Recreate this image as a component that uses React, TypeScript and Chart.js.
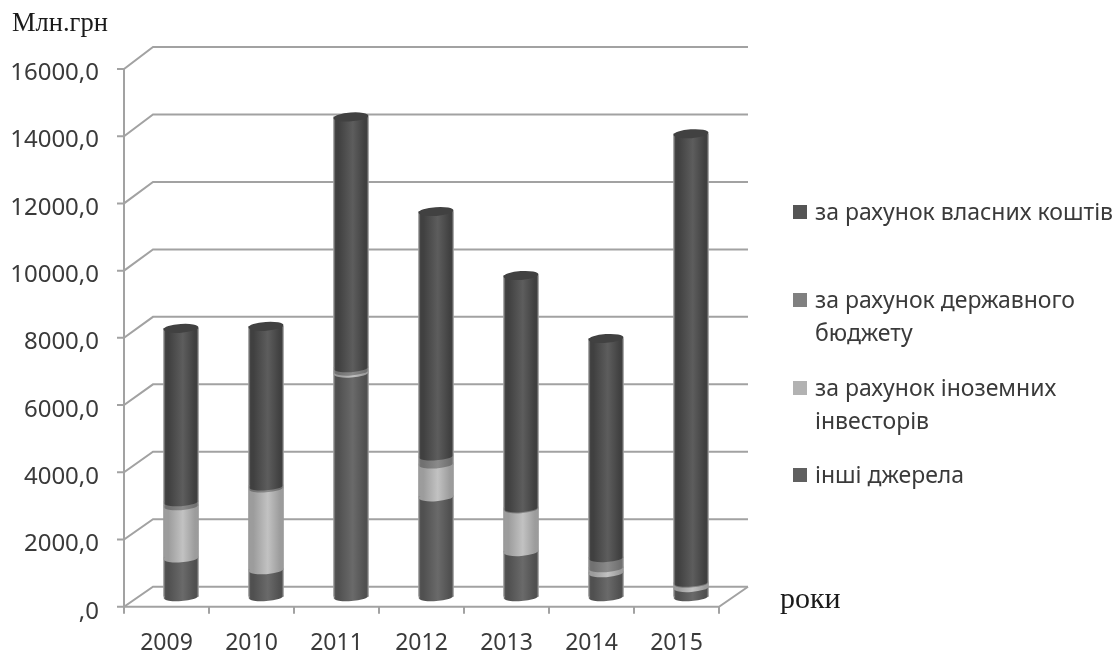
import React, { useEffect, useRef } from "react";
import { Chart, registerables } from "chart.js";

Chart.register(...registerables);

const years = ["2009", "2010", "2011", "2012", "2013", "2014", "2015"];
const otherSources = [1150, 800, 6640, 2965, 1340, 710, 270];
const foreignInvestors = [1550, 2430, 60, 975, 1270, 150, 130];
const stateBudget = [120, 60, 100, 240, 30, 300, 30];
const ownFunds = [5150, 4740, 7450, 7260, 6900, 6510, 13320];

const SANS = '"Noto Sans", sans-serif';
const SERIF = '"Liberation Serif", serif';
const LINE = "#a2a2a2";
const TEXT = "#3a3a3a";

// Half of the floor depth: the bars stand mid-way between the front axis and the back wall.
const DX = 14.5;
const DY = 10;
const BAR_WIDTH = 35;
const CAP_RY = 4.4;
const CAP_TILT = -0.07;

const legendRows = [
  { lines: ["за рахунок власних коштів"], swatch: "#555555", y: 212 },
  { lines: ["за рахунок державного", "бюджету"], swatch: "#808080", y: 300 },
  { lines: ["за рахунок іноземних", "інвесторів"], swatch: "#b2b2b2", y: 388 },
  { lines: ["інші джерела"], swatch: "#606060", y: 475 },
];

function cylinderFill(ctx, cx, halo, edge, mid) {
  const g = ctx.createLinearGradient(cx - BAR_WIDTH / 2, 0, cx + BAR_WIDTH / 2, 0);
  g.addColorStop(0, halo);
  g.addColorStop(0.06, edge);
  g.addColorStop(0.14, edge);
  g.addColorStop(0.55, mid);
  g.addColorStop(0.9, edge);
  g.addColorStop(0.95, edge);
  g.addColorStop(1, halo);
  return g;
}

const shades = [
  ["#9a9a9a", "#505050", "#6a6a6a"],
  ["#9a9a9a", "#9c9c9c", "#c2c2c2"],
  ["#9a9a9a", "#717171", "#8a8a8a"],
  ["#9a9a9a", "#404040", "#5d5d5d"],
];

function segmentFill(datasetIndex) {
  const [halo, edge, mid] = shades[datasetIndex];
  return (c) => {
    const x = c.chart.scales.x;
    if (!x || !c.chart.chartArea) return mid;
    return cylinderFill(c.chart.ctx, x.getPixelForValue(c.dataIndex), halo, edge, mid);
  };
}

const wallPlugin = {
  id: "wall",
  beforeDatasetsDraw(chart) {
    const { ctx, scales, chartArea } = chart;
    const { left, right } = chartArea;
    const zero = scales.y.getPixelForValue(0);
    const top = scales.y.getPixelForValue(scales.y.max);
    // The receding edges lengthen slightly towards the top of the wall.
    const depthAt = (y) => DY + (zero - y) / (zero - top);
    ctx.save();
    ctx.strokeStyle = LINE;
    ctx.lineWidth = 2;
    scales.y.ticks.forEach((t) => {
      const y = scales.y.getPixelForValue(t.value);
      const d = depthAt(y);
      ctx.beginPath();
      ctx.moveTo(left - DX - 7, y + d);
      ctx.lineTo(left - DX, y + d);
      ctx.lineTo(left + DX, y - d);
      ctx.lineTo(right + DX, y - d);
      ctx.stroke();
    });
    ctx.beginPath();
    ctx.moveTo(left - DX, top + depthAt(top));
    ctx.lineTo(left - DX, zero + DY);
    ctx.lineTo(right - DX, zero + DY);
    ctx.lineTo(right + DX, zero - DY);
    ctx.stroke();
    const step = (right - left) / years.length;
    for (let i = 0; i <= years.length; i++) {
      const x = left - DX + i * step;
      ctx.beginPath();
      ctx.moveTo(x, zero + DY);
      ctx.lineTo(x, zero + DY + 7);
      ctx.stroke();
    }
    ctx.restore();
  },
};

// Rounds the flat bars into cylinders: a curved base for each segment, a lid on the top one.
const capsPlugin = {
  id: "caps",
  afterDatasetsDraw(chart) {
    const { ctx } = chart;
    ctx.save();
    chart.data.datasets.forEach((ds, di) => {
      const meta = chart.getDatasetMeta(di);
      meta.data.forEach((bar, i) => {
        if (!ds.data[i]) return;
        const [halo, edge, mid] = shades[di];
        ctx.fillStyle = cylinderFill(ctx, bar.x, halo, edge, mid);
        ctx.beginPath();
        ctx.ellipse(bar.x, bar.base, BAR_WIDTH / 2, CAP_RY, CAP_TILT, 0, Math.PI * 2);
        ctx.fill();
      });
    });
    const lastIndex = chart.data.datasets.length - 1;
    chart.getDatasetMeta(lastIndex).data.forEach((bar) => {
      ctx.fillStyle = "#414141";
      ctx.beginPath();
      ctx.ellipse(bar.x, bar.y, BAR_WIDTH / 2, CAP_RY, CAP_TILT, 0, Math.PI * 2);
      ctx.fill();
    });
    ctx.restore();
  },
};

const annotationPlugin = {
  id: "annotations",
  afterDraw(chart) {
    const { ctx } = chart;
    ctx.save();
    ctx.textBaseline = "middle";
    ctx.textAlign = "left";
    ctx.fillStyle = "#1a1a1a";
    ctx.font = `26.5px ${SERIF}`;
    ctx.fillText("Млн.грн", 12, 24);
    ctx.font = `30px ${SERIF}`;
    ctx.fillText("роки", 780, 600);

    ctx.font = `23px ${SANS}`;
    legendRows.forEach((row) => {
      ctx.fillStyle = row.swatch;
      ctx.fillRect(793, row.y - 7, 14, 14);
      ctx.fillStyle = TEXT;
      row.lines.forEach((line, i) => ctx.fillText(line, 815, row.y + 1 + i * 33));
    });
    ctx.restore();
  },
};

export default function App() {
  const ref = useRef(null);

  useEffect(() => {
    const chart = new Chart(ref.current, {
      type: "bar",
      data: {
        labels: years,
        datasets: [
          { label: "інші джерела", data: otherSources, backgroundColor: segmentFill(0) },
          { label: "за рахунок іноземних інвесторів", data: foreignInvestors, backgroundColor: segmentFill(1) },
          { label: "за рахунок державного бюджету", data: stateBudget, backgroundColor: segmentFill(2) },
          { label: "за рахунок власних коштів", data: ownFunds, backgroundColor: segmentFill(3) },
        ],
      },
      plugins: [wallPlugin, capsPlugin, annotationPlugin],
      options: {
        animation: false,
        responsive: false,
        devicePixelRatio: 1,
        layout: { padding: { top: 58, right: 386.5, bottom: 0, left: 0 } },
        datasets: { bar: { barThickness: BAR_WIDTH, borderWidth: 0 } },
        plugins: { legend: { display: false }, tooltip: { enabled: false } },
        scales: {
          x: {
            stacked: true,
            afterFit: (s) => {
              s.height = 56.3;
            },
            grid: { display: false, drawTicks: false },
            border: { display: false },
            ticks: {
              color: TEXT,
              font: { family: SANS, size: 23 },
              padding: 33,
              labelOffset: -DX,
              autoSkip: false,
              maxRotation: 0,
            },
          },
          y: {
            stacked: true,
            min: 0,
            max: 16000,
            afterFit: (s) => {
              s.width = 138.5;
            },
            grid: { display: false, drawTicks: false },
            border: { display: false },
            ticks: {
              stepSize: 2000,
              color: TEXT,
              font: { family: SANS, size: 24 },
              padding: 39.5,
              labelOffset: 15,
              callback: (v) => (v === 0 ? ",0" : `${v},0`),
            },
          },
        },
      },
    });
    return () => chart.destroy();
  }, []);

  return (
    <div style={{ position: "absolute", left: 0, top: 0, width: 1120, height: 653, overflow: "hidden", background: "#fff" }}>
      <canvas ref={ref} width={1120} height={653} style={{ display: "block" }} />
    </div>
  );
}
